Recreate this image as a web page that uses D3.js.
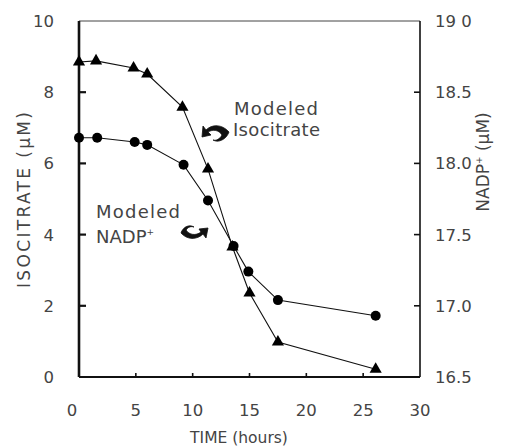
<!DOCTYPE html>
<html><head><meta charset="utf-8">
<script src="https://cdn.jsdelivr.net/npm/d3@7"></script>
<style>body{margin:0;background:#fff}svg text{font-family:"DejaVu Sans",sans-serif;fill:#444}</style>
</head><body><svg id="c" width="506" height="448"></svg>
<script>
const isoHours = [0, 1.5, 4.8, 6.0, 9.1, 11.35, 13.5, 15.0, 17.5, 26.1];
const isoValues = [8.85, 8.88, 8.68, 8.51, 7.58, 5.84, 3.65, 2.36, 0.98, 0.22];
const nadpHours = [0, 1.6, 4.9, 6.0, 9.2, 11.35, 13.6, 14.9, 17.5, 26.1];
const nadpValues = [18.18, 18.18, 18.15, 18.13, 17.99, 17.74, 17.42, 17.24, 17.04, 16.93];
const xTicks = [0, 5, 10, 15, 20, 25, 30];
const leftTicks = [0, 2, 4, 6, 8, 10];
const rightTicks = [16.5, 17.0, 17.5, 18.0, 18.5, 19.0];
const rightTickLabels = ["16.5", "17.0", "17.5", "18.0", "18.5", "19 0"];

const svg = d3.select("#c");
const L = 79, R = 420, T = 21, B = 377;
const x = d3.scaleLinear().domain([0, 30]).range([L, R]);
const yL = d3.scaleLinear().domain([0, 10]).range([B, T]);
const yR = d3.scaleLinear().domain([16.5, 19]).range([B, T]);

// frame
svg.append("line").attr("x1", L).attr("x2", R).attr("y1", T).attr("y2", T).attr("stroke", "#444").attr("stroke-width", 1);
svg.append("line").attr("x1", R).attr("x2", R).attr("y1", T).attr("y2", B).attr("stroke", "#111").attr("stroke-width", 1.6);
svg.append("line").attr("x1", L).attr("x2", R).attr("y1", B).attr("y2", B).attr("stroke", "#111").attr("stroke-width", 2);
svg.append("line").attr("x1", L).attr("x2", L).attr("y1", T).attr("y2", B).attr("stroke", "#111").attr("stroke-width", 2.6);

// ticks
leftTicks.slice(1, -1).forEach(v => {
  svg.append("line").attr("x1", L).attr("x2", L + 7).attr("y1", yL(v)).attr("y2", yL(v)).attr("stroke", "#111").attr("stroke-width", 2.2);
});
rightTicks.slice(1, -1).forEach(v => {
  svg.append("line").attr("x1", R).attr("x2", R - 6).attr("y1", yR(v)).attr("y2", yR(v)).attr("stroke", "#111").attr("stroke-width", 1.6);
});
xTicks.slice(1, -1).forEach(v => {
  svg.append("line").attr("x1", x(v)).attr("x2", x(v)).attr("y1", B).attr("y2", B - 4).attr("stroke", "#111").attr("stroke-width", 1.6);
});

// tick labels
const fs = 16.5;
leftTicks.forEach(v => {
  svg.append("text").attr("x", 54).attr("y", yL(v)).attr("dy", "0.36em").attr("text-anchor", "end")
    .attr("font-size", fs).text(v);
});
rightTicks.forEach((v, i) => {
  svg.append("text").attr("x", 435).attr("y", yR(v)).attr("dy", "0.36em").attr("text-anchor", "start")
    .attr("font-size", fs).text(rightTickLabels[i]);
});
xTicks.forEach(v => {
  svg.append("text").attr("x", v === 0 ? x(v) - 7 : x(v)).attr("y", 410).attr("dy", "0.36em").attr("text-anchor", "middle")
    .attr("font-size", fs).text(v);
});

// axis titles
svg.append("text").attr("transform", "translate(24,200) rotate(-90)").attr("text-anchor", "middle").attr("dy", "0.36em")
  .attr("font-size", 17).attr("textLength", 176).attr("lengthAdjust", "spacing").text("ISOCITRATE (μM)");
svg.append("text").attr("transform", "translate(483,162) rotate(-90)").attr("text-anchor", "middle").attr("dy", "0.36em")
  .attr("font-size", 17).html("NADP<tspan dy='-7' font-size='9'>+</tspan><tspan dy='7'> (μM)</tspan>");
svg.append("text").attr("x", 239).attr("y", 437).attr("text-anchor", "middle").attr("dy", "0.36em")
  .attr("font-size", 15.5).text("TIME (hours)");

// lines
const isoData = isoHours.map((h, i) => [h, isoValues[i]]);
const nadpData = nadpHours.map((h, i) => [h, nadpValues[i]]);
svg.append("path").attr("d", d3.line().x(d => x(d[0])).y(d => yL(d[1]))(isoData)).attr("fill", "none").attr("stroke", "#111").attr("stroke-width", 1.1);
svg.append("path").attr("d", d3.line().x(d => x(d[0])).y(d => yR(d[1]))(nadpData)).attr("fill", "none").attr("stroke", "#111").attr("stroke-width", 1.1);

const tri = d3.symbol().type(d3.symbolTriangle).size(64);
svg.selectAll(".tri").data(isoData).join("path").attr("class", "tri")
  .attr("transform", d => `translate(${x(d[0])},${yL(d[1])})`).attr("d", tri).attr("fill", "#000");
svg.selectAll(".dot").data(nadpData).join("circle").attr("class", "dot")
  .attr("cx", d => x(d[0])).attr("cy", d => yR(d[1])).attr("r", 5).attr("fill", "#000");

// annotations
const af = 18;
svg.append("text").attr("x", 234).attr("y", 115).attr("font-size", af).attr("textLength", 84).text("Modeled");
svg.append("text").attr("x", 233).attr("y", 136).attr("font-size", af).attr("textLength", 87).text("Isocitrate");
svg.append("text").attr("x", 96).attr("y", 218).attr("font-size", af).attr("textLength", 84).text("Modeled");
svg.append("text").attr("x", 96).attr("y", 243).attr("font-size", af)
  .html("NADP<tspan dy='-8' font-size='9'>+</tspan>");

// curly arrows
svg.append("path").attr("d", "M229,132 C222,124 212,124 206,130 L203,126 L202,137 L211,135 L208,132 C213,129 219,130 222,135 C220,139 216,141 213,140 C218,143 226,140 229,132 Z")
  .attr("fill", "#111").attr("stroke", "#111").attr("stroke-width", 0.8);
svg.append("path").attr("d", "M181,233 C187,240 197,240 203,234 L206,238 L208,228 L199,229 L201,232 C196,236 189,235 186,230 C188,227 191,226 194,227 C189,224 183,227 181,233 Z")
  .attr("fill", "#111").attr("stroke", "#111").attr("stroke-width", 0.8);
</script></body></html>
